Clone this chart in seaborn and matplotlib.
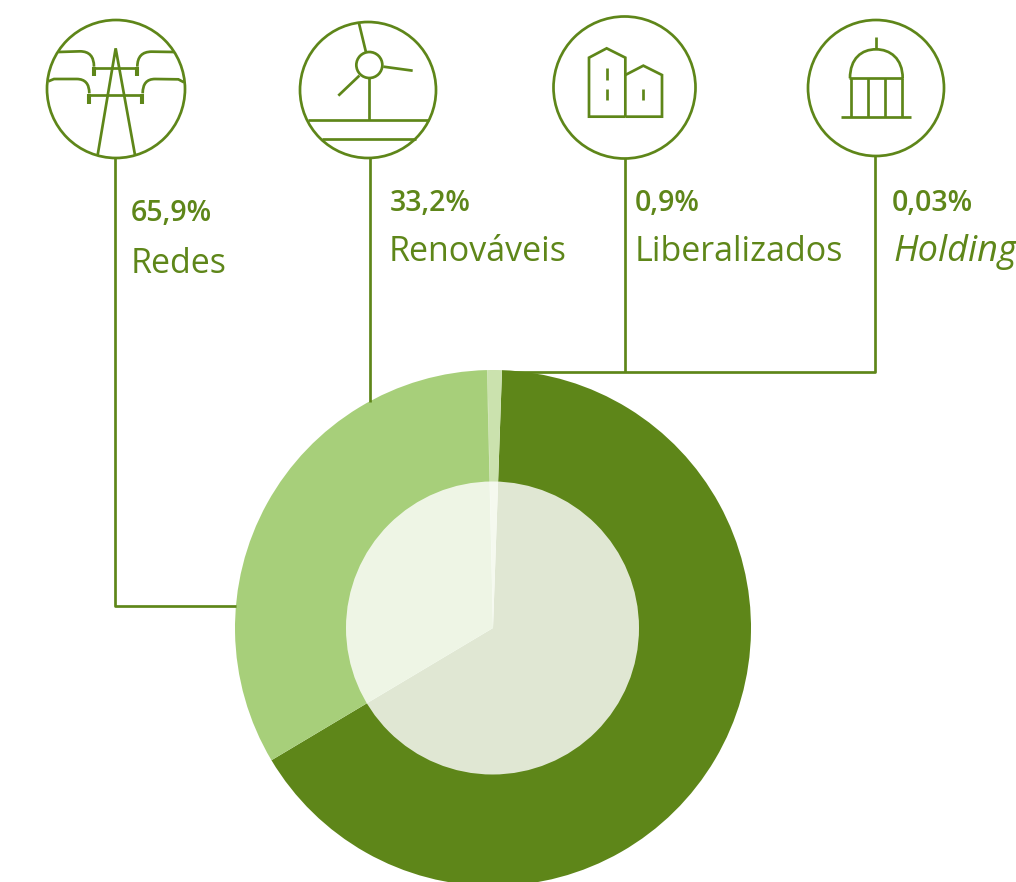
import matplotlib
matplotlib.use('Agg')
import matplotlib.pyplot as plt
import seaborn as sns
from matplotlib.path import Path
from matplotlib.patches import PathPatch, Circle

# dados
categorias = ['Redes', 'Renováveis', 'Holding', 'Liberalizados']
valores = [65.9, 33.2, 0.03, 0.9]
rotulos = ['65,9%', '33,2%', '0,03%', '0,9%']

VERDE = '#5E8619'
cores = sns.color_palette([VERDE, '#A7CF7A', '#A7CF7A', '#CBE2AE'])

W, H = 1016, 882

sns.set_theme(style='white')
plt.rcParams['font.family'] = ['Open Sans', 'DejaVu Sans']
plt.rcParams['lines.solid_capstyle'] = 'butt'

fig = plt.figure(figsize=(W / 100, H / 100), dpi=100)
ax = fig.add_axes([0, 0, 1, 1])


def py(y):
    # coordenadas em pixeis da imagem, com y a crescer para baixo
    return H - y


# --- Donut ---
ax.pie(valores, colors=cores, center=(493, py(628)), radius=258,
       startangle=88, counterclock=False, frame=True,
       wedgeprops={'linewidth': 0})
ax.add_patch(Circle((492.5, py(628)), 146.5, fc='white', ec='none', alpha=0.81, zorder=5))

ax.set_xlim(0, W)
ax.set_ylim(0, H)
ax.set_aspect('equal')
ax.axis('off')

LW = 1.95

# --- Linhas de ligação ---
ligacoes = [
    ([115, 115, 236], [157, 606, 606]),
    ([370, 370], [158, 402]),
    ([625, 625], [157, 372]),
    ([875, 875, 502], [155, 372, 372]),
]
for xs, ys in ligacoes:
    sns.lineplot(x=xs, y=[py(v) for v in ys], color=VERDE, linewidth=LW,
                 estimator=None, sort=False, ax=ax, zorder=1)


# --- Ícones (traçados a partir de recortes ampliados 3x) ---
def zl(pts, ox, oy):
    return [(ox + x / 3, py(oy + y / 3)) for x, y in pts]


def linha(pts, ox, oy, lw=LW):
    p = zl(pts, ox, oy)
    ax.plot([a for a, _ in p], [b for _, b in p], color=VERDE, lw=lw,
            solid_joinstyle='miter', zorder=3)


def curva(pts, codes, ox, oy):
    ax.add_patch(PathPatch(Path(zl(pts, ox, oy), codes), fc='none', ec=VERDE, lw=LW, zorder=3))


for cx, cy, r in [(116, 89, 69), (368, 90, 68), (624.5, 87.5, 71), (876, 88, 68)]:
    ax.add_patch(Circle((cx, py(cy)), r, fc='white', ec=VERDE, lw=LW, zorder=2))

# torre
ox, oy = 30, 5
linha([(203, 450), (257, 130), (315, 450)], ox, oy)
linha([(192, 188), (322, 188)], ox, oy)
linha([(177, 270), (337, 270)], ox, oy)
for xt, y0, y1 in [(192, 186, 214), (322, 186, 214), (177, 268, 297), (337, 268, 297)]:
    linha([(xt, y0), (xt, y1)], ox, oy, lw=LW * 1.5)
c3 = [Path.MOVETO, Path.LINETO, Path.CURVE3, Path.CURVE3]
c4l = [Path.MOVETO, Path.LINETO, Path.LINETO, Path.CURVE3, Path.CURVE3]
curva([(85, 141), (150, 139), (192, 139), (192, 185)], c3, ox, oy)
curva([(432, 141), (365, 140), (322, 140), (322, 185)], c3, ox, oy)
curva([(55, 229), (72, 222), (140, 222), (178, 222), (178, 265)], c4l, ox, oy)
curva([(462, 232), (445, 223), (375, 222), (338, 222), (338, 265)], c4l, ox, oy)

# turbina
ax.add_patch(Circle((ox + 1018 / 3, py(oy + 180 / 3)), 13, fc='none', ec=VERDE, lw=LW, zorder=3))
linha([(987, 55), (1008, 142)], ox, oy)
linha([(1060, 185), (1148, 197)], ox, oy)
linha([(988, 212), (925, 272)], ox, oy)
linha([(1018, 220), (1018, 345)], ox, oy)
linha([(835, 346), (1197, 346)], ox, oy)
linha([(875, 401), (1157, 401)], ox, oy)

# edifícios
ox, oy = 540, 5
linha([(256, 335), (147, 335), (147, 158), (200, 130), (256, 158), (256, 335)], ox, oy)
linha([(256, 210), (310, 182), (366, 210), (366, 335), (256, 335)], ox, oy)
linha([(201, 190), (201, 224)], ox, oy)
linha([(201, 251), (201, 285)], ox, oy)
linha([(310, 251), (310, 285)], ox, oy)

# cúpula
linha([(1008, 97), (1008, 132)], ox, oy)
c4 = [Path.MOVETO] + [Path.CURVE4] * 6
curva([(930, 220), (930, 160), (965, 133), (1008, 133), (1050, 133), (1088, 160), (1088, 220)], c4, ox, oy)
linha([(928, 220), (1090, 220)], ox, oy)
for xc in [932, 983, 1035, 1086]:
    linha([(xc, 220), (xc, 335)], ox, oy)
linha([(902, 335), (1113, 335)], ox, oy)

# --- Textos ---
pos_rotulo = [(131, 221), (390, 211), (892, 211), (635, 211)]
pos_nome = [(131, 273), (389, 261), (893, 261), (635, 261)]
estilos = ['normal', 'normal', 'italic', 'normal']
tamanhos = [24.5, 24.5, 26, 24.5]

for i in range(len(categorias)):
    ax.text(pos_rotulo[i][0], py(pos_rotulo[i][1]), rotulos[i], color=VERDE,
            fontsize=20.5, fontweight='semibold', ha='left', va='baseline')
    ax.text(pos_nome[i][0], py(pos_nome[i][1]), categorias[i], color=VERDE,
            fontsize=tamanhos[i], fontweight='normal', fontstyle=estilos[i], ha='left', va='baseline')

fig.savefig('out.png', dpi=100, facecolor='white')
plt.close(fig)
